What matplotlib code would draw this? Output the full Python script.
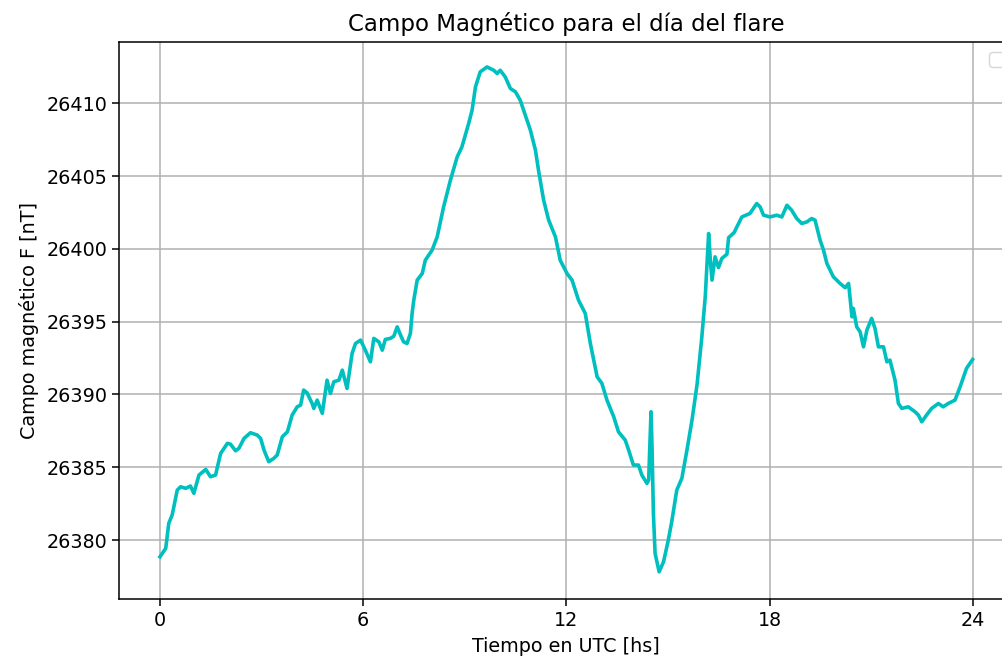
import matplotlib
matplotlib.use("Agg")
import matplotlib.pyplot as plt

# Hora UTC (hs) y campo magnético total F (nT)
horas = [
    0.01, 0.08, 0.18, 0.27, 0.37, 0.52, 0.62, 0.77, 0.91, 1.01,
    1.16, 1.36, 1.50, 1.65, 1.80, 2.00, 2.09, 2.24, 2.34, 2.49,
    2.68, 2.88, 2.98, 3.08, 3.22, 3.37, 3.47, 3.62, 3.77, 3.91,
    4.06, 4.16, 4.25, 4.35, 4.50, 4.55, 4.65, 4.80, 4.94, 5.04,
    5.14, 5.29, 5.39, 5.53, 5.68, 5.78, 5.93, 6.07, 6.22, 6.32,
    6.47, 6.57, 6.66, 6.81, 6.91, 7.01, 7.11, 7.20, 7.30, 7.40,
    7.45, 7.50, 7.60, 7.75, 7.84, 8.04, 8.19, 8.38, 8.58, 8.78,
    8.92, 9.12, 9.22, 9.32, 9.46, 9.66, 9.86, 9.96, 10.05, 10.20,
    10.35, 10.50, 10.64, 10.79, 10.94, 11.09, 11.18, 11.33, 11.48, 11.68,
    11.82, 12.02, 12.17, 12.36, 12.56, 12.71, 12.91, 13.05, 13.20, 13.40,
    13.54, 13.74, 13.84, 13.98, 14.13, 14.23, 14.38, 14.43, 14.50, 14.53,
    14.57, 14.62, 14.74, 14.87, 15.01, 15.11, 15.26, 15.41, 15.56, 15.71,
    15.86, 16.00, 16.10, 16.20, 16.25, 16.30, 16.39, 16.49, 16.59, 16.74,
    16.79, 16.95, 17.18, 17.42, 17.62, 17.72, 17.82, 18.01, 18.21, 18.36,
    18.51, 18.65, 18.80, 18.95, 19.10, 19.24, 19.34, 19.44, 19.49, 19.59,
    19.69, 19.88, 20.08, 20.23, 20.33, 20.43, 20.47, 20.57, 20.67, 20.77,
    20.87, 21.01, 21.11, 21.21, 21.36, 21.46, 21.55, 21.70, 21.80, 21.90,
    22.09, 22.29, 22.39, 22.49, 22.63, 22.78, 22.98, 23.12, 23.27, 23.47,
    23.62, 23.81, 23.99,
]
campo_f = [
    26378.85, 26379.09, 26379.43, 26381.15, 26381.72, 26383.43, 26383.66, 26383.55, 26383.71, 26383.21,
    26384.46, 26384.85, 26384.35, 26384.46, 26385.95, 26386.64, 26386.59, 26386.13, 26386.30, 26386.98,
    26387.37, 26387.21, 26386.98, 26386.18, 26385.38, 26385.61, 26385.84, 26387.09, 26387.43, 26388.58,
    26389.15, 26389.27, 26390.30, 26390.11, 26389.38, 26389.04, 26389.61, 26388.70, 26390.98, 26390.07,
    26390.87, 26390.98, 26391.67, 26390.41, 26392.82, 26393.50, 26393.73, 26393.04, 26392.24, 26393.85,
    26393.61, 26393.04, 26393.78, 26393.85, 26394.00, 26394.64, 26394.07, 26393.61, 26393.50, 26394.19,
    26395.56, 26396.48, 26397.85, 26398.31, 26399.22, 26399.91, 26400.82, 26402.88, 26404.71, 26406.31,
    26407.00, 26408.61, 26409.52, 26411.12, 26412.15, 26412.49, 26412.26, 26412.04, 26412.26, 26411.80,
    26411.01, 26410.78, 26410.21, 26409.18, 26408.15, 26406.77, 26405.40, 26403.35, 26401.97, 26400.82,
    26399.22, 26398.31, 26397.85, 26396.48, 26395.56, 26393.50, 26391.21, 26390.76, 26389.61, 26388.46,
    26387.43, 26386.86, 26386.18, 26385.15, 26385.15, 26384.46, 26383.89, 26384.12, 26388.81, 26386.40,
    26381.83, 26379.09, 26377.82, 26378.51, 26380.00, 26381.24, 26383.43, 26384.24, 26386.18, 26388.24,
    26390.71, 26393.96, 26396.70, 26401.05, 26399.22, 26397.85, 26399.45, 26398.71, 26399.34, 26399.63,
    26400.77, 26401.11, 26402.19, 26402.43, 26403.11, 26402.88, 26402.31, 26402.19, 26402.31, 26402.19,
    26402.99, 26402.65, 26402.08, 26401.74, 26401.85, 26402.08, 26401.97, 26401.05, 26400.59, 26399.91,
    26398.99, 26398.08, 26397.62, 26397.33, 26397.62, 26395.33, 26395.91, 26394.64, 26394.30, 26393.27,
    26394.42, 26395.22, 26394.53, 26393.27, 26393.27, 26392.24, 26392.36, 26390.98, 26389.38, 26389.04,
    26389.15, 26388.81, 26388.58, 26388.12, 26388.58, 26389.04, 26389.38, 26389.15, 26389.38, 26389.61,
    26390.52, 26391.79, 26392.40,
]
xticks = [0, 6, 12, 18, 24]
yticks = [26380, 26385, 26390, 26395, 26400, 26405, 26410]

fig = plt.figure(figsize=(10.03, 6.59), dpi=100)
# el eje se extiende algo más allá del borde derecho, como en la captura original
ax = fig.add_axes([0.1186, 0.0910, 0.892, 0.8452])

ax.plot(horas, campo_f, color="c", linewidth=2.6)

ax.set_xlim(-1.2, 25.2)
ax.set_ylim(26375.95, 26414.2)
ax.set_xticks(xticks)
ax.set_yticks(yticks)
ax.tick_params(labelsize=13.8, length=4.8, width=1.1)
for spine in ax.spines.values():
    spine.set_linewidth(1.1)
ax.spines["right"].set_visible(False)  # queda fuera de la imagen recortada

ax.grid(True, color="#b0b0b0", linewidth=1.1)
ax.set_title("Campo Magnético para el día del flare", fontsize=16.5, pad=8)
ax.set_xlabel("Tiempo en UTC [hs]", fontsize=13.8, labelpad=5)
ax.set_ylabel("Campo magnético F [nT]", fontsize=13.8, labelpad=5)
ax.legend(handles=[], loc="upper right", fontsize=13.8)

fig.savefig("out.png", dpi=100)
plt.close(fig)
